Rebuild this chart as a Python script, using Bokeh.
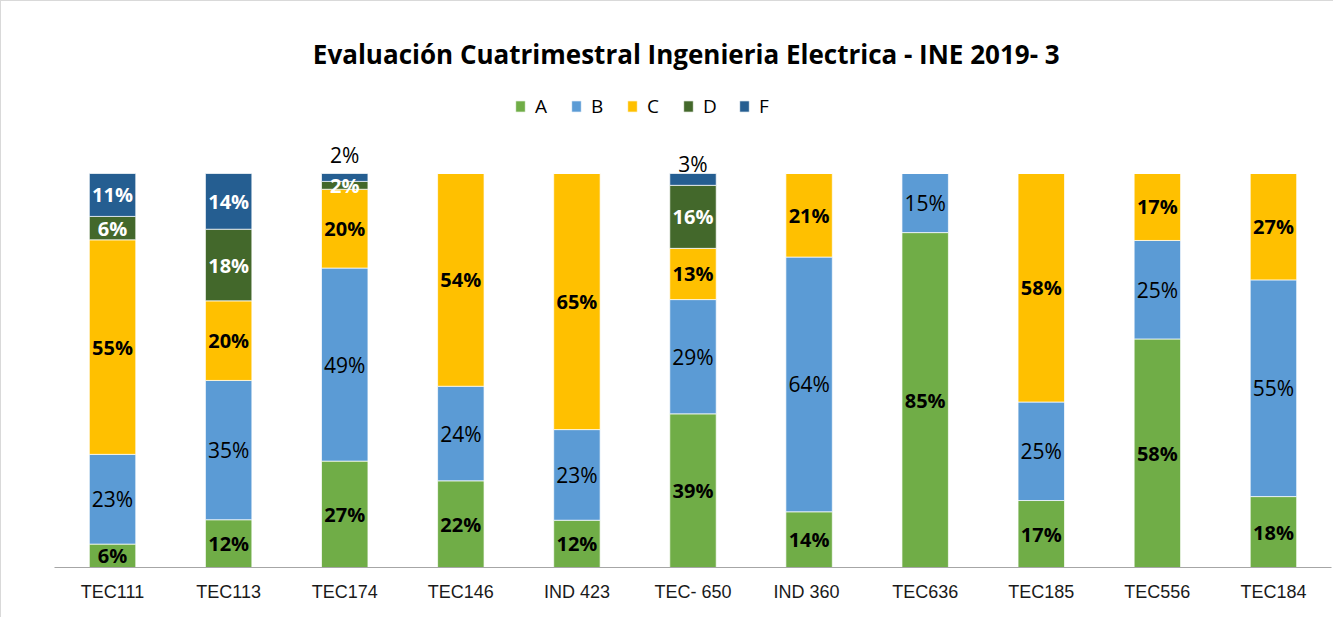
from bokeh.plotting import figure
from bokeh.models import ColumnDataSource, Range1d, FactorRange, Legend, LegendItem
from bokeh.embed import file_html
from bokeh.resources import INLINE
from bokeh.core.properties import value

# ---- data ----
categories = ["TEC111", "TEC113", "TEC174", "TEC146", "IND 423", "TEC- 650",
              "IND  360", "TEC636", "TEC185", "TEC556", "TEC184"]
grade_A = [6, 12, 27, 22, 12, 39, 14, 85, 17, 58, 18]
grade_B = [23, 35, 49, 24, 23, 29, 64, 15, 25, 25, 55]
grade_C = [55, 20, 20, 54, 65, 13, 21, 0, 58, 17, 27]
grade_D = [6, 18, 2, 0, 0, 16, 0, 0, 0, 0, 0]
grade_F = [11, 14, 2, 0, 0, 3, 0, 0, 0, 0, 0]
series_names = ["A", "B", "C", "D", "F"]
colors = ["#70AD47", "#5B9BD5", "#FFC000", "#43682B", "#255E91"]
title_text = "Evaluación Cuatrimestral  Ingenieria Electrica -  INE 2019- 3"

series = [grade_A, grade_B, grade_C, grade_D, grade_F]
totals = [sum(v) for v in zip(*series)]

data = {"cat": categories}
for name, vals in zip(series_names, series):
    data["f" + name] = [v / t for v, t in zip(vals, totals)]
src = ColumnDataSource(data)

# layout (pixels)
W, H = 1333, 617
frame_top, bar_top, frame_bottom = 80, 172, 566
y_end = 1 + (bar_top - frame_top) / (frame_bottom - bar_top)

p = figure(x_range=FactorRange(*categories), y_range=Range1d(0, y_end),
           width=W, height=H, output_backend="svg", toolbar_location=None,
           min_border_left=53, min_border_right=3, min_border_top=frame_top,
           min_border_bottom=H - frame_bottom)

rends = p.vbar_stack(["f" + n for n in series_names], x="cat", width=0.4,
                     color=colors, source=src, line_color="white", line_width=0.7)

# ---- data labels ----
label_font = "Open Sans"
styles = {
    "A": ("black", "bold"),
    "B": ("black", "normal"),
    "C": ("black", "bold"),
    "D": ("white", "bold"),
    "F": ("white", "bold"),
}
sizes = {"bold": "20px", "normal": "21px"}
groups = {}
bottoms = [0.0] * len(categories)
for name, vals in zip(series_names, series):
    for i, (v, t) in enumerate(zip(vals, totals)):
        if v == 0:
            continue
        f = v / t
        if name == "F" and v < 5:
            # small top segment: label above the bar
            key = ("black", "normal")
            off = -10 - (9 if 0 < grade_D[i] < 5 else 0)
            y = 1.0
        else:
            key = styles[name]
            off = 0
            y = bottoms[i] + f / 2
        g = groups.setdefault(key, {"cat": [], "y": [], "t": [], "off": []})
        g["cat"].append(categories[i])
        g["y"].append(y)
        g["t"].append(f"{v}%")
        g["off"].append(off)
    bottoms = [b + v / t for b, v, t in zip(bottoms, vals, totals)]

for (col, weight), g in groups.items():
    s = ColumnDataSource(g)
    p.text(x="cat", y="y", text="t", y_offset="off", source=s,
           text_align="center", text_baseline="middle",
           text_color=col, text_font=value(label_font),
           text_font_style=weight, text_font_size=sizes[weight])

# ---- axes / grid ----
p.yaxis.visible = False
p.xgrid.grid_line_color = None
p.ygrid.grid_line_color = None
p.outline_line_color = None
p.xaxis.axis_line_color = "#A6A6A6"
p.xaxis.axis_line_width = 1.2
p.xaxis.major_tick_line_color = None
p.xaxis.minor_tick_line_color = None
p.xaxis.major_label_text_font = "Liberation Sans"
p.xaxis.major_label_text_font_size = "18px"
p.xaxis.major_label_text_color = "#1a1a1a"
p.xaxis.major_label_standoff = 8

# ---- title ----
p.title.text = title_text
p.title.align = "center"
p.title.offset = -15
p.title.text_font = "Open Sans"
p.title.text_font_style = "bold"
p.title.text_font_size = "26px"
p.title.text_color = "black"
p.title.standoff = 20

# ---- legend ----
items = [LegendItem(label=n, renderers=[r]) for n, r in zip(series_names, rends)]
legend = Legend(items=items, orientation="horizontal",
                location=(513 - 53, frame_bottom - 118),
                glyph_width=12, glyph_height=14, label_standoff=9, spacing=15,
                padding=0, margin=0, border_line_color=None,
                background_fill_alpha=0,
                label_text_font="Open Sans", label_text_font_size="19px",
                label_text_color="black")
p.add_layout(legend, "center")

p.styles = {"border-left": "1px solid #D9D9D9", "border-top": "1px solid #D9D9D9"}

open("out.html", "w").write(file_html(p, INLINE))
